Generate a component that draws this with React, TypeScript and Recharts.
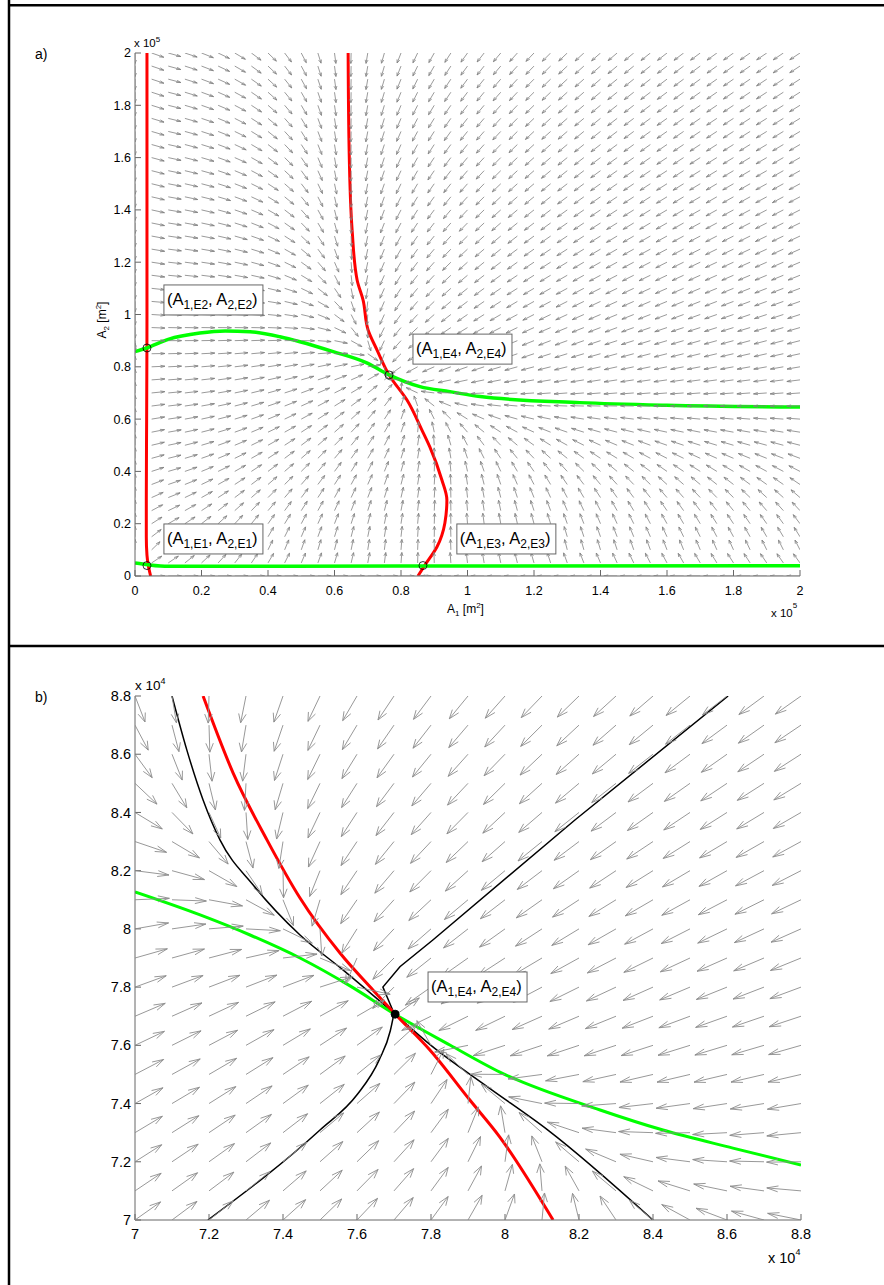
import React from 'react';
import { ComposedChart, XAxis, YAxis, Line, Scatter } from 'recharts';

const FONT = '"Liberation Sans", Arial, Helvetica, sans-serif';

// ---------------- Panel a: A1, A2 in units of 1e5 m^2 ----------------
const aTicks = [0, 0.2, 0.4, 0.6, 0.8, 1, 1.2, 1.4, 1.6, 1.8, 2];
const aGrid = [0, 0.05, 0.1, 0.15, 0.2, 0.25, 0.3, 0.35, 0.4, 0.45, 0.5, 0.55, 0.6, 0.65, 0.7, 0.75, 0.8, 0.85, 0.9, 0.95, 1, 1.05, 1.1, 1.15, 1.2, 1.25, 1.3, 1.35, 1.4, 1.45, 1.5, 1.55, 1.6, 1.65, 1.7, 1.75, 1.8, 1.85, 1.9, 1.95, 2];

// dA1/dt = 0 nullclines (red)
const aRedLeft = [
  { x: 0.036, y: 2.0 }, { x: 0.036, y: 1.5 }, { x: 0.036, y: 1.0 }, { x: 0.035, y: 0.6 },
  { x: 0.034, y: 0.3 }, { x: 0.034, y: 0.15 }, { x: 0.036, y: 0.08 }, { x: 0.04, y: 0.04 }, { x: 0.047, y: 0.0 },
];
const aRedRight = [
  { x: 0.641, y: 2.0 }, { x: 0.644, y: 1.629 }, { x: 0.653, y: 1.323 }, { x: 0.668, y: 1.132 },
  { x: 0.686, y: 1.055 }, { x: 0.701, y: 0.941 }, { x: 0.728, y: 0.864 }, { x: 0.764, y: 0.769 },
  { x: 0.818, y: 0.673 }, { x: 0.863, y: 0.558 }, { x: 0.887, y: 0.493 }, { x: 0.923, y: 0.367 },
  { x: 0.938, y: 0.291 }, { x: 0.932, y: 0.203 }, { x: 0.908, y: 0.111 }, { x: 0.872, y: 0.042 }, { x: 0.851, y: 0.0 },
];
// dA2/dt = 0 nullclines (green)
const aGreenLow = [
  { x: 0, y: 0.05 }, { x: 0.04, y: 0.043 }, { x: 0.1, y: 0.037 }, { x: 0.8, y: 0.038 }, { x: 2.0, y: 0.039 },
];
const aGreenHigh = [
  { x: 0, y: 0.858 }, { x: 0.035, y: 0.872 }, { x: 0.1, y: 0.905 }, { x: 0.195, y: 0.929 },
  { x: 0.271, y: 0.937 }, { x: 0.346, y: 0.934 }, { x: 0.436, y: 0.915 }, { x: 0.496, y: 0.896 },
  { x: 0.596, y: 0.858 }, { x: 0.697, y: 0.815 }, { x: 0.764, y: 0.769 }, { x: 0.857, y: 0.724 },
  { x: 0.947, y: 0.705 }, { x: 1.038, y: 0.686 }, { x: 1.338, y: 0.663 }, { x: 1.6, y: 0.653 }, { x: 2.0, y: 0.646 },
];
const aEquilibria = [
  { x: 0.036, y: 0.04 }, { x: 0.036, y: 0.872 }, { x: 0.866, y: 0.04 }, { x: 0.764, y: 0.769 },
];
const aLabels = [
  { x: 0.087, y: 1.113, n: 'E2' }, { x: 0.836, y: 0.925, n: 'E4' },
  { x: 0.087, y: 0.199, n: 'E1' }, { x: 0.968, y: 0.199, n: 'E3' },
];
// relative weighting of the flow components read from the arrow slopes
const aWeight = { cross: 0.81, xOff: 0.35, yOff: 0.25 };
const aArrowLen = 0.04;

// ---------------- Panel b: zoom around E4, units of 1e4 m^2 ----------------
const bTicks = [7, 7.2, 7.4, 7.6, 7.8, 8, 8.2, 8.4, 8.6, 8.8];
const bGrid = [7, 7.1, 7.2, 7.3, 7.4, 7.5, 7.6, 7.7, 7.8, 7.9, 8, 8.1, 8.2, 8.3, 8.4, 8.5, 8.6, 8.7, 8.8];
const bRed = [
  { x: 7.184, y: 8.8 }, { x: 7.265, y: 8.536 }, { x: 7.357, y: 8.305 }, { x: 7.446, y: 8.106 },
  { x: 7.554, y: 7.917 }, { x: 7.643, y: 7.79 }, { x: 7.705, y: 7.705 }, { x: 7.797, y: 7.584 },
  { x: 7.905, y: 7.412 }, { x: 7.986, y: 7.285 }, { x: 8.13, y: 7.0 },
];
const bGreen = [
  { x: 7.0, y: 8.127 }, { x: 7.176, y: 8.048 }, { x: 7.311, y: 7.979 }, { x: 7.446, y: 7.9 },
  { x: 7.58, y: 7.805 }, { x: 7.705, y: 7.705 }, { x: 7.851, y: 7.601 }, { x: 7.986, y: 7.508 },
  { x: 8.257, y: 7.378 }, { x: 8.427, y: 7.309 }, { x: 8.616, y: 7.247 }, { x: 8.8, y: 7.189 },
];
const bBlackSlow = [
  { x: 7.1, y: 8.8 }, { x: 7.14, y: 8.615 }, { x: 7.184, y: 8.443 }, { x: 7.23, y: 8.305 },
  { x: 7.32, y: 8.15 }, { x: 7.446, y: 7.979 }, { x: 7.562, y: 7.859 }, { x: 7.7, y: 7.71 },
  { x: 7.8, y: 7.6 }, { x: 7.95, y: 7.46 }, { x: 8.116, y: 7.309 }, { x: 8.4, y: 7.0 },
];
const bBlackUpper = [
  { x: 8.603, y: 8.8 }, { x: 8.189, y: 8.374 }, { x: 7.805, y: 7.962 }, { x: 7.716, y: 7.87 },
  { x: 7.67, y: 7.8 }, { x: 7.7, y: 7.71 },
];
const bBlackLower = [
  { x: 7.197, y: 7.0 }, { x: 7.5, y: 7.309 }, { x: 7.6, y: 7.43 }, { x: 7.66, y: 7.55 },
  { x: 7.69, y: 7.65 }, { x: 7.7, y: 7.71 },
];
const bEquilibrium = [{ x: 7.703, y: 7.707 }];
const bLabels = [{ x: 7.792, y: 7.852, n: 'E4' }];
const bWeight = 0.9;
const bArrowLen = 0.093;

// ---------------- helpers ----------------
type P = { x: number; y: number };
function interp(pts: P[], key: 'x' | 'y', val: number): number {
  const out = key === 'x' ? 'y' : 'x';
  const s = [...pts].sort((a, b) => a[key] - b[key]);
  if (val <= s[0][key]) return s[0][out];
  for (let i = 1; i < s.length; i++) {
    if (val <= s[i][key]) {
      const a = s[i - 1], b = s[i];
      const t = (val - a[key]) / (b[key] - a[key] || 1);
      return a[out] + t * (b[out] - a[out]);
    }
  }
  return s[s.length - 1][out];
}

function fieldA(x: number, y: number): [number, number] {
  const x0 = interp(aRedLeft, 'y', y);
  const y0 = interp(aGreenLow, 'x', x);
  const s1 = (x / (x + 0.01)) * Math.tanh((x - x0) / 0.015);
  const s2 = (y / (y + 0.01)) * Math.tanh((y - y0) / 0.015);
  const u = s1 * (interp(aRedRight, 'y', y) - x);
  const v = aWeight.cross * ((x + aWeight.xOff) / (y + aWeight.yOff)) * s2 * (interp(aGreenHigh, 'x', x) - y);
  return [u, v];
}
function fieldB(x: number, y: number): [number, number] {
  return [interp(bRed, 'y', y) - x, bWeight * (interp(bGreen, 'x', x) - y)];
}
function buildArrows(grid: number[], f: (x: number, y: number) => [number, number], len: number) {
  const out: { x: number; y: number; u: number; v: number }[] = [];
  for (const x of grid) for (const y of grid) {
    const [u, v] = f(x, y);
    const m = Math.hypot(u, v);
    if (m > 1e-9) out.push({ x, y, u: (u / m) * len, v: (v / m) * len });
  }
  return out;
}
const aArrows = buildArrows(aGrid, fieldA, aArrowLen);
const bArrows = buildArrows(bGrid, fieldB, bArrowLen);

function makeArrow(kx: number, ky: number, color: string, width: number) {
  return (props: any) => {
    const { cx, cy, payload } = props;
    if (cx == null || cy == null || !payload) return <g />;
    const { u, v } = payload;
    const al = 0.33, be = 0.33;
    const tx = cx + u * kx, ty = cy - v * ky;
    const h1x = cx + (u - al * (u + be * v)) * kx, h1y = cy - (v - al * (v - be * u)) * ky;
    const h2x = cx + (u - al * (u - be * v)) * kx, h2y = cy - (v - al * (v + be * u)) * ky;
    return (
      <path d={`M${cx},${cy}L${tx},${ty}M${h1x},${h1y}L${tx},${ty}L${h2x},${h2y}`}
        stroke={color} strokeWidth={width} fill="none" />
    );
  };
}

const EqLabel = (props: any) => {
  const { cx, cy, payload } = props;
  if (cx == null) return <g />;
  return (
    <g>
      <rect x={cx} y={cy} width={99} height={30} fill="#fff" stroke="#666" strokeWidth={1} />
      <text x={cx + 3} y={cy + 20} fontFamily={FONT} fontSize={16.5} fill="#000">
        <tspan>(A</tspan>
        <tspan fontSize={12} dy={4}>{'1,' + payload.n}</tspan>
        <tspan dy={-4}>, A</tspan>
        <tspan fontSize={12} dy={4}>{'2,' + payload.n}</tspan>
        <tspan dy={-4}>)</tspan>
      </text>
    </g>
  );
};
const OpenCircle = (props: any) => (
  props.cx == null ? <g /> : <circle cx={props.cx} cy={props.cy} r={4} fill="none" stroke="#000" strokeWidth={0.8} />
);
const FilledCircle = (props: any) => (
  props.cx == null ? <g /> : <circle cx={props.cx} cy={props.cy} r={4} fill="#000" stroke="#000" strokeWidth={1} />
);

// layout
const W = 884;
const A_H = 640, A_M = { top: 53, right: 84, bottom: 24, left: 0 };
const B_H = 637, B_M = { top: 48, right: 83, bottom: 25, left: 0 };
const Y_W = 135, X_H = 40;
const aKx = (W - A_M.left - A_M.right - Y_W) / 2;
const aKy = (A_H - A_M.top - A_M.bottom - X_H) / 2;
const bKx = (W - B_M.left - B_M.right - Y_W) / 1.8;
const bKy = (B_H - B_M.top - B_M.bottom - X_H) / 1.8;
const arrowA = makeArrow(aKx, aKy, '#808080', 0.8);
const arrowB = makeArrow(bKx, bKy, '#8c8c8c', 0.9);

const axisStroke = '#666';

export default function App() {
  return (
    <div style={{ position: 'absolute', left: 0, top: 0, width: 884, height: 1285, background: '#fff' }}>
      <div style={{ position: 'absolute', left: 0, top: 0 }}>
        <ComposedChart width={W} height={A_H} margin={A_M}>
          <XAxis type="number" dataKey="x" domain={[0, 2]} ticks={aTicks} interval={0} allowDataOverflow
            height={X_H} stroke={axisStroke} tickSize={-6} tickMargin={16}
            tick={{ fontSize: 12.5, fill: '#000', fontFamily: FONT }} />
          <YAxis type="number" dataKey="y" domain={[0, 2]} ticks={aTicks} interval={0} allowDataOverflow
            width={Y_W} stroke={axisStroke} tickSize={-6} tickMargin={10}
            tick={{ fontSize: 12.5, fill: '#000', fontFamily: FONT }} />
          <Scatter data={aArrows} dataKey="y" shape={arrowA} isAnimationActive={false} />
          <Line data={aRedLeft} dataKey="y" type="monotoneY" stroke="#ff0000" strokeWidth={3} dot={false} isAnimationActive={false} />
          <Line data={aRedRight} dataKey="y" type="monotoneY" stroke="#ff0000" strokeWidth={3} dot={false} isAnimationActive={false} />
          <Line data={aGreenLow} dataKey="y" type="monotoneX" stroke="#00ff00" strokeWidth={3.5} dot={false} isAnimationActive={false} />
          <Line data={aGreenHigh} dataKey="y" type="monotoneX" stroke="#00ff00" strokeWidth={3.5} dot={false} isAnimationActive={false} />
          <Scatter data={aEquilibria} dataKey="y" shape={OpenCircle} isAnimationActive={false} />
          <Scatter data={aLabels} dataKey="y" shape={EqLabel} isAnimationActive={false} />
        </ComposedChart>
      </div>
      <div style={{ position: 'absolute', left: 0, top: 648 }}>
        <ComposedChart width={W} height={B_H} margin={B_M}>
          <XAxis type="number" dataKey="x" domain={[7, 8.8]} ticks={bTicks} interval={0} allowDataOverflow
            height={X_H} stroke={axisStroke} tickSize={-6} tickMargin={15}
            tick={{ fontSize: 14.5, fill: '#000', fontFamily: FONT }} />
          <YAxis type="number" dataKey="y" domain={[7, 8.8]} ticks={bTicks} interval={0} allowDataOverflow
            width={Y_W} stroke={axisStroke} tickSize={-6} tickMargin={10}
            tick={{ fontSize: 14.5, fill: '#000', fontFamily: FONT }} />
          <Scatter data={bArrows} dataKey="y" shape={arrowB} isAnimationActive={false} />
          <Line data={bBlackSlow} dataKey="y" type="monotoneX" stroke="#000" strokeWidth={1.5} dot={false} isAnimationActive={false} />
          <Line data={bBlackUpper} dataKey="y" type="linear" stroke="#000" strokeWidth={1.5} dot={false} isAnimationActive={false} />
          <Line data={bBlackLower} dataKey="y" type="monotoneX" stroke="#000" strokeWidth={1.5} dot={false} isAnimationActive={false} />
          <Line data={bGreen} dataKey="y" type="monotoneX" stroke="#00ff00" strokeWidth={3} dot={false} isAnimationActive={false} />
          <Line data={bRed} dataKey="y" type="monotoneX" stroke="#ff0000" strokeWidth={3} dot={false} isAnimationActive={false} />
          <Scatter data={bEquilibrium} dataKey="y" shape={FilledCircle} isAnimationActive={false} />
          <Scatter data={bLabels} dataKey="y" shape={EqLabel} isAnimationActive={false} />
        </ComposedChart>
      </div>
      <svg width={884} height={1285} style={{ position: 'absolute', left: 0, top: 0, pointerEvents: 'none' }}>
        <line x1={9} y1={0} x2={9} y2={1285} stroke="#000" strokeWidth={2.5} />
        <line x1={8} y1={5.3} x2={884} y2={5.3} stroke="#000" strokeWidth={2.5} />
        <line x1={8} y1={646} x2={884} y2={646} stroke="#000" strokeWidth={2.5} />
        <g fontFamily={FONT} fill="#000">
          <text x={35} y={59} fontSize={14}>a)</text>
          <text x={35} y={702} fontSize={14}>b)</text>
          <text x={134} y={46.5} fontSize={11.5}>x 10<tspan fontSize={8} dy={-5}>5</tspan></text>
          <text x={771} y={616.5} fontSize={11.5}>x 10<tspan fontSize={8} dy={-9}>5</tspan></text>
          <text x={135} y={690} fontSize={13.5}>x 10<tspan fontSize={9} dy={-6}>4</tspan></text>
          <text x={768} y={1263} fontSize={14.5}>x 10<tspan fontSize={9} dy={-8}>4</tspan></text>
          <text x={447} y={613} fontSize={12}>A<tspan fontSize={8} dy={3}>1</tspan><tspan fontSize={12} dy={-3}> [m</tspan><tspan fontSize={8} dy={-5}>2</tspan><tspan fontSize={12} dy={5}>]</tspan></text>
          <text transform="translate(106,320) rotate(-90)" textAnchor="middle" fontSize={12}>A<tspan fontSize={8} dy={3}>2</tspan><tspan fontSize={12} dy={-3}> [m</tspan><tspan fontSize={8} dy={-5}>2</tspan><tspan fontSize={12} dy={5}>]</tspan></text>
        </g>
      </svg>
    </div>
  );
}
